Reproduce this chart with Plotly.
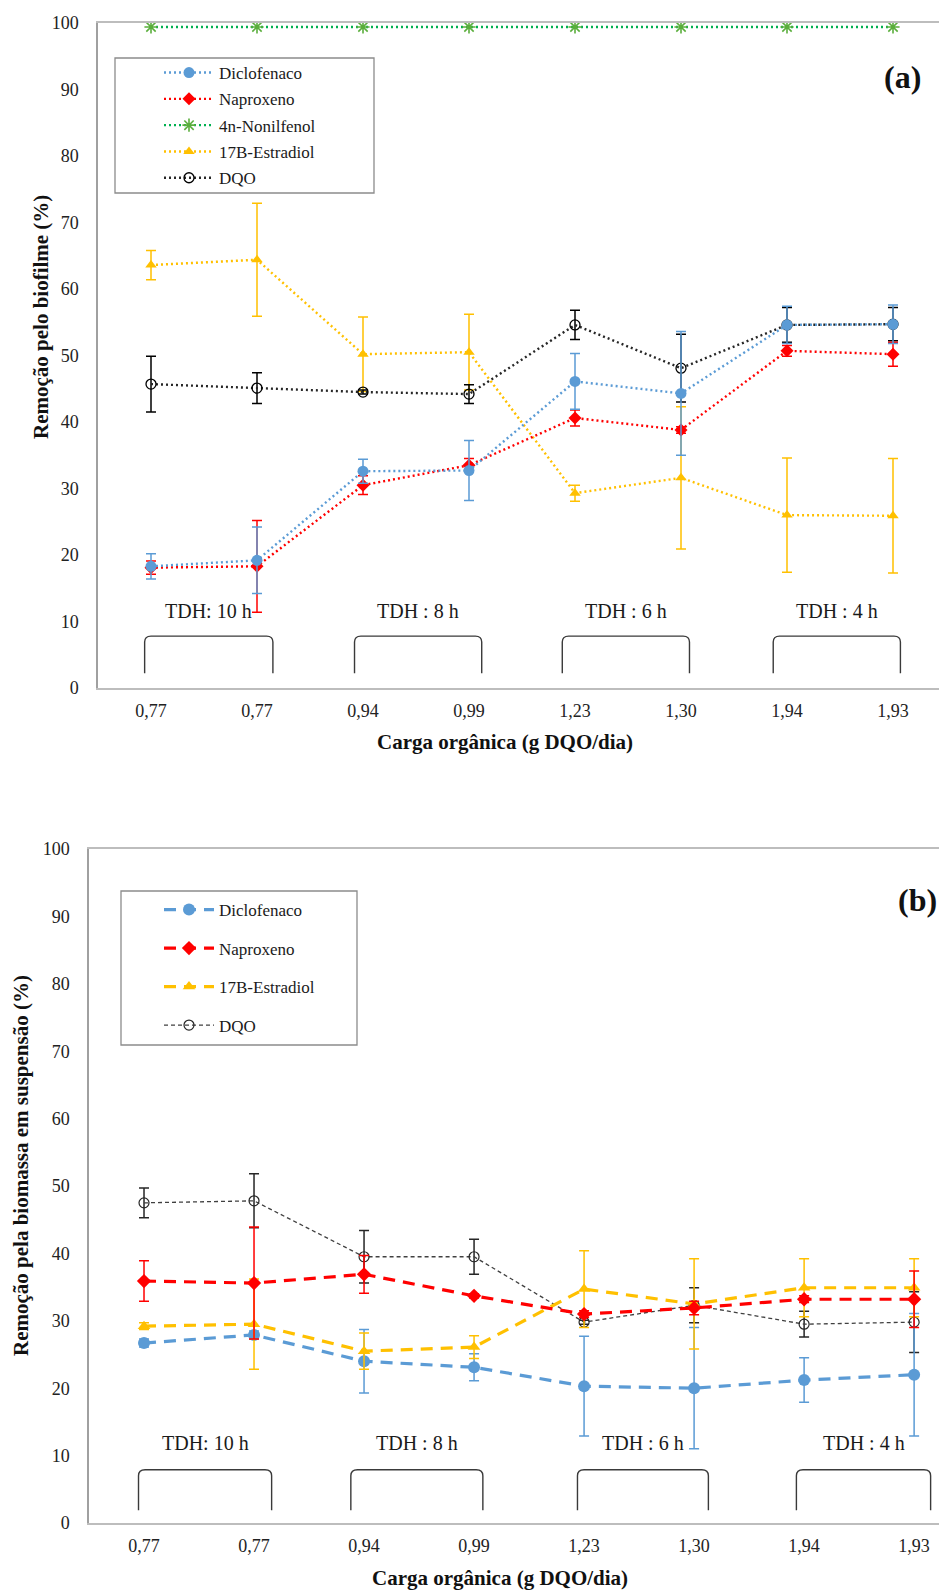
import plotly.graph_objects as go

# ---------------- data ----------------
x_labels = ["0,77", "0,77", "0,94", "0,99", "1,23", "1,30", "1,94", "1,93"]
x_pos = list(range(len(x_labels)))

# Panel (a): biofilm removal (%)
a_diclofenaco = [18.3, 19.2, 32.6, 32.7, 46.1, 44.3, 54.6, 54.7]
a_diclofenaco_err = [1.9, 5.0, 1.8, 4.5, 4.2, 9.3, 2.8, 2.9]
a_naproxeno = [18.1, 18.3, 30.5, 33.5, 40.6, 38.8, 50.7, 50.2]
a_naproxeno_err = [1.0, 6.9, 1.4, 1.0, 1.2, 0.5, 0.8, 1.8]
a_nonilfenol = [99.4, 99.4, 99.4, 99.4, 99.4, 99.4, 99.4, 99.4]
a_estradiol = [63.6, 64.4, 50.2, 50.5, 29.3, 31.6, 26.0, 25.9]
a_estradiol_err = [2.2, 8.5, 5.6, 5.7, 1.2, 10.7, 8.6, 8.6]
a_dqo = [45.7, 45.1, 44.5, 44.2, 54.6, 48.1, 54.6, 54.7]
a_dqo_err = [4.2, 2.3, 0.3, 1.4, 2.2, 5.1, 2.6, 2.5]

# Panel (b): suspended biomass removal (%)
b_diclofenaco = [26.7, 27.9, 24.0, 23.1, 20.3, 20.0, 21.2, 22.0]
b_diclofenaco_err = [0.6, 0.6, 4.7, 2.0, 7.4, 9.0, 3.3, 9.1]
b_naproxeno = [35.9, 35.6, 36.9, 33.7, 31.0, 31.9, 33.2, 33.2]
b_naproxeno_err = [3.0, 8.3, 2.8, 0.3, 0.5, 1.0, 0.5, 4.2]
b_estradiol = [29.2, 29.5, 25.5, 26.1, 34.7, 32.5, 34.9, 34.9]
b_estradiol_err = [0.5, 6.7, 2.7, 1.7, 5.7, 6.7, 4.3, 4.3]
b_dqo = [47.5, 47.8, 39.5, 39.5, 29.8, 32.3, 29.5, 29.8]
b_dqo_err = [2.2, 4.0, 3.9, 2.6, 0.3, 2.6, 1.9, 4.5]

# TDH groups (brackets)
tdh_labels_a = ["TDH: 10 h", "TDH : 8 h", "TDH : 6 h", "TDH : 4 h"]
tdh_labels_b = ["TDH: 10 h", "TDH : 8 h", "TDH : 6 h", "TDH : 4 h"]
bracket_a_start = [-0.06, 1.92, 3.88, 5.87]
bracket_a_end = [1.15, 3.12, 5.08, 7.07]
bracket_b_start = [-0.05, 1.88, 3.94, 5.93]
bracket_b_end = [1.16, 3.08, 5.13, 7.15]

y_ticks = [0, 10, 20, 30, 40, 50, 60, 70, 80, 90, 100]

# ---------------- style ----------------
W, H = 947, 1592
OFF = 8  # page body margin
FONT = "Liberation Serif"
BLUE = "#5B9BD5"
RED = "#FF0000"
GREEN = "#00B050"
YELLOW = "#FFC000"
BLACK = "#000000"


def px_x(p):
    return (p - OFF) / W


def px_y(p):
    return 1 - (p - OFF) / H


fig = go.Figure()


def err(arr, color, thick=1.5, width=5):
    return dict(type="data", array=arr, visible=True, color=color, thickness=thick, width=width)


dot = "2px,3px"

# Panel (a) traces
fig.add_trace(go.Scatter(x=x_pos, y=a_estradiol, name="17B-Estradiol", mode="lines+markers",
                         line=dict(color=YELLOW, width=2.4, dash=dot),
                         marker=dict(symbol="triangle-up", size=10, color=YELLOW),
                         error_y=err(a_estradiol_err, YELLOW),
                         xaxis="x", yaxis="y", legend="legend", legendgroup="a4", legendrank=4))
fig.add_trace(go.Scatter(x=x_pos, y=a_dqo, name="DQO", mode="lines+markers",
                         line=dict(color="#262626", width=2.4, dash=dot),
                         marker=dict(symbol="circle-open", size=10, color=BLACK, line=dict(width=1.3)),
                         error_y=err(a_dqo_err, BLACK),
                         xaxis="x", yaxis="y", legend="legend", legendgroup="a5", legendrank=5))
fig.add_trace(go.Scatter(x=x_pos, y=a_naproxeno, name="Naproxeno", mode="lines+markers",
                         line=dict(color=RED, width=2.4, dash=dot),
                         marker=dict(symbol="diamond", size=10, color=RED),
                         error_y=err(a_naproxeno_err, RED),
                         xaxis="x", yaxis="y", legend="legend", legendgroup="a2", legendrank=2))
fig.add_trace(go.Scatter(x=x_pos, y=a_diclofenaco, name="Diclofenaco", mode="lines+markers",
                         line=dict(color=BLUE, width=2.4, dash=dot),
                         marker=dict(symbol="circle", size=11, color=BLUE),
                         error_y=err(a_diclofenaco_err, BLUE),
                         xaxis="x", yaxis="y", legend="legend", legendgroup="a1", legendrank=1))
fig.add_trace(go.Scatter(x=x_pos, y=a_nonilfenol, name="4n-Nonilfenol", mode="lines+markers",
                         line=dict(color=GREEN, width=2.4, dash=dot),
                         marker=dict(symbol="asterisk-open", size=11, color="#5AAE3C",
                                     line=dict(width=1.6, color="#5AAE3C")),
                         xaxis="x", yaxis="y", legend="legend", legendgroup="a3", legendrank=3))

# Panel (b) traces
dash_b = "12px,8px"
fig.add_trace(go.Scatter(x=x_pos, y=b_dqo, name="DQO", mode="lines+markers",
                         line=dict(color="#404040", width=1.3, dash="4px,3px"),
                         marker=dict(symbol="circle-open", size=10, color="#262626", line=dict(width=1.2)),
                         error_y=err(b_dqo_err, "#262626"),
                         xaxis="x2", yaxis="y2", legend="legend2", legendgroup="b4", legendrank=4))
fig.add_trace(go.Scatter(x=x_pos, y=b_diclofenaco, name="Diclofenaco", mode="lines+markers",
                         line=dict(color=BLUE, width=3.2, dash=dash_b),
                         marker=dict(symbol="circle", size=12, color=BLUE),
                         error_y=err(b_diclofenaco_err, BLUE),
                         xaxis="x2", yaxis="y2", legend="legend2", legendgroup="b1", legendrank=1))
fig.add_trace(go.Scatter(x=x_pos, y=b_estradiol, name="17B-Estradiol", mode="lines+markers",
                         line=dict(color=YELLOW, width=3.2, dash=dash_b),
                         marker=dict(symbol="triangle-up", size=11, color=YELLOW),
                         error_y=err(b_estradiol_err, YELLOW),
                         xaxis="x2", yaxis="y2", legend="legend2", legendgroup="b3", legendrank=3))
fig.add_trace(go.Scatter(x=x_pos, y=b_naproxeno, name="Naproxeno", mode="lines+markers",
                         line=dict(color=RED, width=3.2, dash=dash_b),
                         marker=dict(symbol="diamond", size=11, color=RED),
                         error_y=err(b_naproxeno_err, RED),
                         xaxis="x2", yaxis="y2", legend="legend2", legendgroup="b2", legendrank=2))

# ---------------- shapes & annotations ----------------
shapes = []
annotations = []


def bracket(x0, x1, ytop, ybot, xref, yref):
    r = 0.06
    ry = 0.9
    path = (f"M {x0},{ybot} L {x0},{ytop - ry} Q {x0},{ytop} {x0 + r},{ytop} "
            f"L {x1 - r},{ytop} Q {x1},{ytop} {x1},{ytop - ry} L {x1},{ybot}")
    return dict(type="path", path=path, xref=xref, yref=yref,
                line=dict(color="#3a3a3a", width=1.4))


for s, e, lab in zip(bracket_a_start, bracket_a_end, tdh_labels_a):
    shapes.append(bracket(s, e, 7.8, 2.2, "x", "y"))
    annotations.append(dict(x=(s + e) / 2, y=11.6, xref="x", yref="y", text=lab, showarrow=False,
                            xanchor="center", yanchor="middle",
                            font=dict(family=FONT, size=20, color="#1a1a1a")))
for s, e, lab in zip(bracket_b_start, bracket_b_end, tdh_labels_b):
    shapes.append(bracket(s, e, 7.9, 1.9, "x2", "y2"))
    annotations.append(dict(x=(s + e) / 2, y=11.8, xref="x2", yref="y2", text=lab, showarrow=False,
                            xanchor="center", yanchor="middle",
                            font=dict(family=FONT, size=20, color="#1a1a1a")))

# legend boxes
shapes.append(dict(type="rect", xref="paper", yref="paper",
                   x0=px_x(115), x1=px_x(374), y0=px_y(193), y1=px_y(58),
                   line=dict(color="#8c8c8c", width=1.3), fillcolor="rgba(0,0,0,0)"))
shapes.append(dict(type="rect", xref="paper", yref="paper",
                   x0=px_x(121), x1=px_x(357), y0=px_y(1045), y1=px_y(891),
                   line=dict(color="#8c8c8c", width=1.3), fillcolor="rgba(0,0,0,0)"))


def paper_text(x, y, text, size, angle=0):
    annotations.append(dict(x=px_x(x), y=px_y(y), xref="paper", yref="paper", text=text,
                            showarrow=False, textangle=angle, xanchor="center", yanchor="middle",
                            font=dict(family=FONT, size=size, color="#111")))


# panel labels
paper_text(902, 77, "<b>(a)</b>", 32)
paper_text(917, 900, "<b>(b)</b>", 32)

# axis titles
paper_text(505, 742, "<b>Carga orgânica (g DQO/dia)</b>", 21)
paper_text(41, 317, "<b>Remoção pelo biofilme (%)</b>", 21, -90)
paper_text(500, 1578, "<b>Carga orgânica (g DQO/dia)</b>", 21)
paper_text(21, 1166, "<b>Remoção pela biomassa em suspensão (%)</b>", 21, -90)

tickfont = dict(family=FONT, size=18, color="#222")

fig.update_layout(
    width=W, height=H,
    margin=dict(l=0, r=0, t=0, b=0, pad=0, autoexpand=False),
    paper_bgcolor="white", plot_bgcolor="white",
    showlegend=True,
    xaxis=dict(domain=[px_x(98), px_x(946)], range=[-0.5, 7.5], anchor="y", automargin=False,
               tickmode="array", tickvals=x_pos, ticktext=x_labels, ticks="",
               showgrid=False, zeroline=False, showline=True, linecolor="#bdbdbd", linewidth=1.5,
               mirror=True, tickfont=tickfont, ticklabelstandoff=6),
    yaxis=dict(domain=[px_y(688), px_y(23)], range=[0, 100], anchor="x", automargin=False,
               tickmode="array", tickvals=y_ticks, ticks="",
               showgrid=False, zeroline=False, showline=True, linecolor="#a0a0a0", linewidth=1.5,
               mirror=True, tickfont=tickfont, ticklabelstandoff=14),
    xaxis2=dict(domain=[px_x(89), px_x(947 + OFF)], range=[-0.5, -0.5 + (947 - 89) / 109.0],
                anchor="y2", automargin=False,
                tickmode="array", tickvals=x_pos, ticktext=x_labels, ticks="",
                showgrid=False, zeroline=False, showline=True, linecolor="#bdbdbd", linewidth=1.5,
                mirror=True, tickfont=tickfont, ticklabelstandoff=6),
    yaxis2=dict(domain=[px_y(1523), px_y(849)], range=[0, 100], anchor="x2", automargin=False,
                tickmode="array", tickvals=y_ticks, ticks="",
                showgrid=False, zeroline=False, showline=True, linecolor="#a0a0a0", linewidth=1.5,
                mirror=False, tickfont=tickfont, ticklabelstandoff=14),
    legend=dict(x=px_x(159), y=px_y(55), xanchor="left", yanchor="top",
                bgcolor="rgba(0,0,0,0)", borderwidth=0, itemwidth=50,
                tracegroupgap=1.2, traceorder="grouped",
                font=dict(family=FONT, size=17, color="#1a1a1a")),
    legend2=dict(x=px_x(159), y=px_y(892), xanchor="left", yanchor="top",
                 bgcolor="rgba(0,0,0,0)", borderwidth=0, itemwidth=50,
                 tracegroupgap=13.4, traceorder="grouped",
                 font=dict(family=FONT, size=17, color="#1a1a1a")),
    shapes=shapes,
    annotations=annotations,
)

fig.write_html("out.html")
